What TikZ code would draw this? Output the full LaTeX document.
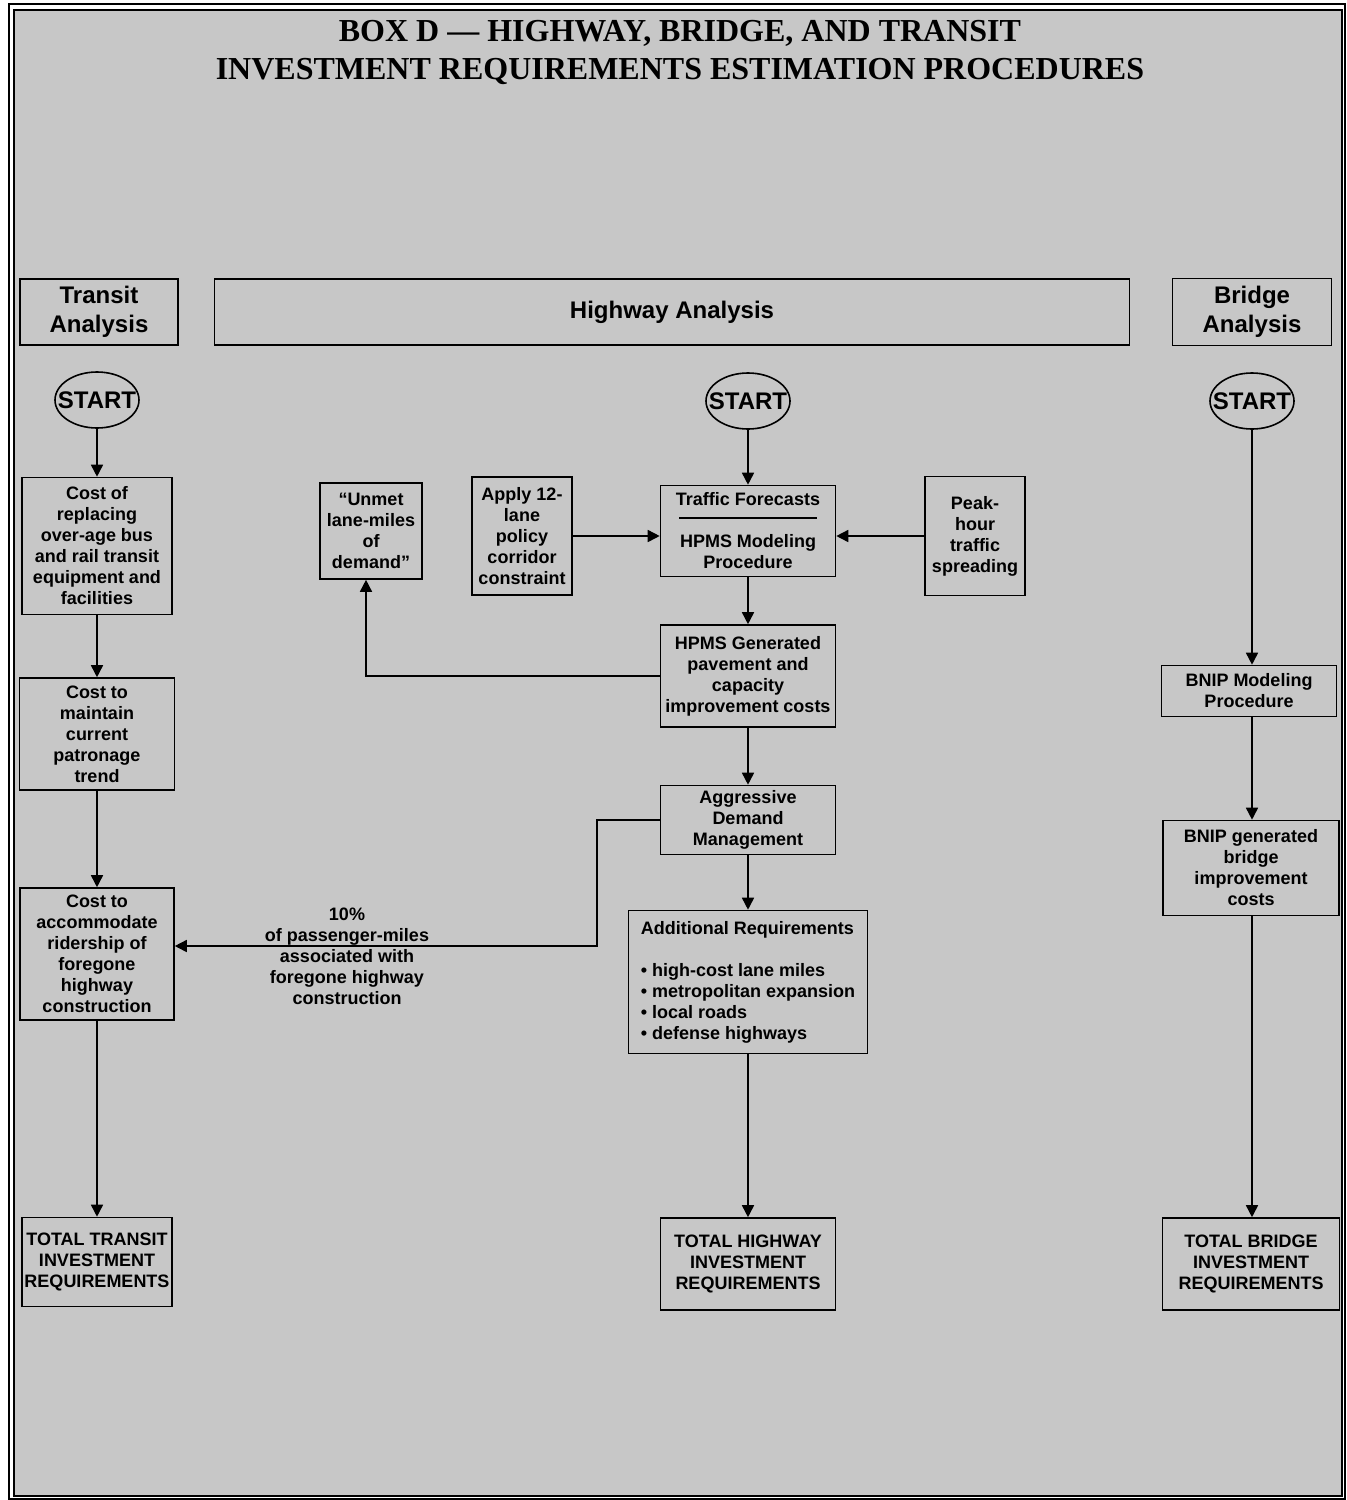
\documentclass[tikz,border=0pt]{standalone}
\usepackage{fontspec}
\setmainfont{Liberation Sans}
\newfontfamily\titlefont{Liberation Serif}
\usepackage{tikz}
\usetikzlibrary{arrows.meta,shapes.geometric,positioning,calc}
\definecolor{halftone}{gray}{0.78}

\begin{document}
\begin{tikzpicture}[x=0.5pt,y=-0.5pt,
    every node/.style={font=\bfseries\fontsize{9}{10.5}\selectfont,align=center,inner sep=1pt},
    box/.style={draw,thick},
    hdrbox/.style={draw,thick,font=\bfseries\fontsize{12}{14.5}\selectfont},
    startnode/.style={draw,thick,ellipse,minimum width=42pt,minimum height=28pt,inner xsep=-5.2pt,inner ysep=0pt,font=\bfseries\fontsize{12}{14}\selectfont},
    arr/.style={thick,-{Triangle[width=6pt,length=6pt]}}]
    \useasboundingbox (0,0) rectangle (1346,1500);

    % frame and shading
    \draw[line width=1.3pt] (9,4) rectangle (1345,1499);
    \draw[thick,fill=halftone] (14,10) rectangle (1342,1496);

    \node[font=\titlefont\bfseries\fontsize{16}{19}\selectfont] (title) at (680,52)
      {BOX D \textemdash\ HIGHWAY, BRIDGE, AND TRANSIT\\INVESTMENT REQUIREMENTS ESTIMATION PROCEDURES};

    % headers
    \node[hdrbox,minimum width=79pt,minimum height=33pt] (tranhdr) at (99,312) {Transit\\Analysis};
    \node[hdrbox,minimum width=457.5pt,minimum height=33pt] (hwyhdr) at (672,312) {Highway Analysis};
    \node[hdrbox,minimum width=79.5pt,minimum height=33.5pt] (brghdr) at (1252,312) {Bridge\\Analysis};

    % transit column
    \node[startnode] (tstart) at (97,400) {START};
    \node[box,minimum width=75pt,minimum height=68.5pt] (tcost1) at (97,546)
      {Cost of\\replacing\\over-age bus\\and rail transit\\equipment and\\facilities};
    \node[box,minimum width=77.5pt,minimum height=56pt] (tcost2) at (97,734)
      {Cost to\\maintain\\current\\patronage\\trend};
    \node[box,minimum width=77pt,minimum height=66pt] (tcost3) at (97,954)
      {Cost to\\accommodate\\ridership of\\foregone\\highway\\construction};
    \node[box,minimum width=75pt,minimum height=44.5pt] (ttotal) at (97,1262)
      {TOTAL TRANSIT\\INVESTMENT\\REQUIREMENTS};

    % highway column
    \node[startnode] (hstart) at (748,401) {START};
    \node[box,minimum width=87.5pt,minimum height=45.5pt] (traffic) at (748,531)
      {Traffic Forecasts\\[-4pt]\rule{69pt}{0.8pt}\\[4pt]HPMS Modeling\\Procedure};
    \node[box,minimum width=51pt,minimum height=48pt] (unmet) at (371,531)
      {``Unmet\\lane-miles\\of\\demand''};
    \node[box,minimum width=50pt,minimum height=59pt] (apply) at (522,536)
      {Apply 12-\\lane\\policy\\corridor\\constraint};
    \node[box,minimum width=50pt,minimum height=59.5pt] (peak) at (975,536)
      {Peak-\\hour\\traffic\\spreading};
    \node[box,minimum width=87.5pt,minimum height=51pt] (hpmsgen) at (748,676)
      {HPMS Generated\\pavement and\\capacity\\improvement costs};
    \node[box,minimum width=87.5pt,minimum height=34.5pt] (aggr) at (748,820)
      {Aggressive\\Demand\\Management};
    \node[box,minimum width=119.5pt,minimum height=71.5pt,align=left] (addreq) at (748,982)
      {Additional Requirements\\[10.5pt]
       \textbullet\ high-cost lane miles\\
       \textbullet\ metropolitan expansion\\
       \textbullet\ local roads\\
       \textbullet\ defense highways};
    \node[box,minimum width=87.5pt,minimum height=46pt] (htotal) at (748,1264)
      {TOTAL HIGHWAY\\INVESTMENT\\REQUIREMENTS};

    % bridge column
    \node[startnode] (bstart) at (1252,401) {START};
    \node[box,minimum width=87.5pt,minimum height=25.5pt] (bnip) at (1249,691)
      {BNIP Modeling\\Procedure};
    \node[box,minimum width=88pt,minimum height=47.5pt] (bnipgen) at (1251,868)
      {BNIP generated\\bridge\\improvement\\costs};
    \node[box,minimum width=88.5pt,minimum height=46pt] (btotal) at (1251,1264)
      {TOTAL BRIDGE\\INVESTMENT\\REQUIREMENTS};

    % transit arrows
    \draw[arr] (tstart) -- (tcost1);
    \draw[arr] (tcost1) -- (tcost2);
    \draw[arr] (tcost2) -- (tcost3);
    \draw[arr] (tcost3) -- (ttotal);

    % highway arrows
    \draw[arr] (hstart) -- (traffic);
    \draw[arr] (apply.east) -- (apply.east -| traffic.west);
    \draw[arr] (peak.west) -- (peak.west -| traffic.east);
    \draw[arr] (traffic) -- (hpmsgen);
    \draw[arr] (hpmsgen.west) -| ([xshift=-2.5pt]unmet.south);
    \draw[arr] (hpmsgen) -- (aggr);
    \draw[arr] (aggr) -- (addreq);
    \draw[arr] (addreq) -- (htotal);

    \coordinate (jog) at (597,946);
    \draw[arr] (aggr.west) -| (jog) -- (jog -| tcost3.east);
    \node (share) at (347,956)
      {10\%\\of passenger-miles\\associated with\\foregone highway\\construction};

    % bridge arrows
    \draw[arr] (bstart) -- (bstart |- bnip.north);
    \draw[arr] (bnip.south -| bstart) -- (bstart |- bnipgen.north);
    \draw[arr] (bnipgen.south -| bstart) -- (bstart |- btotal.north);
\end{tikzpicture}
\end{document}
